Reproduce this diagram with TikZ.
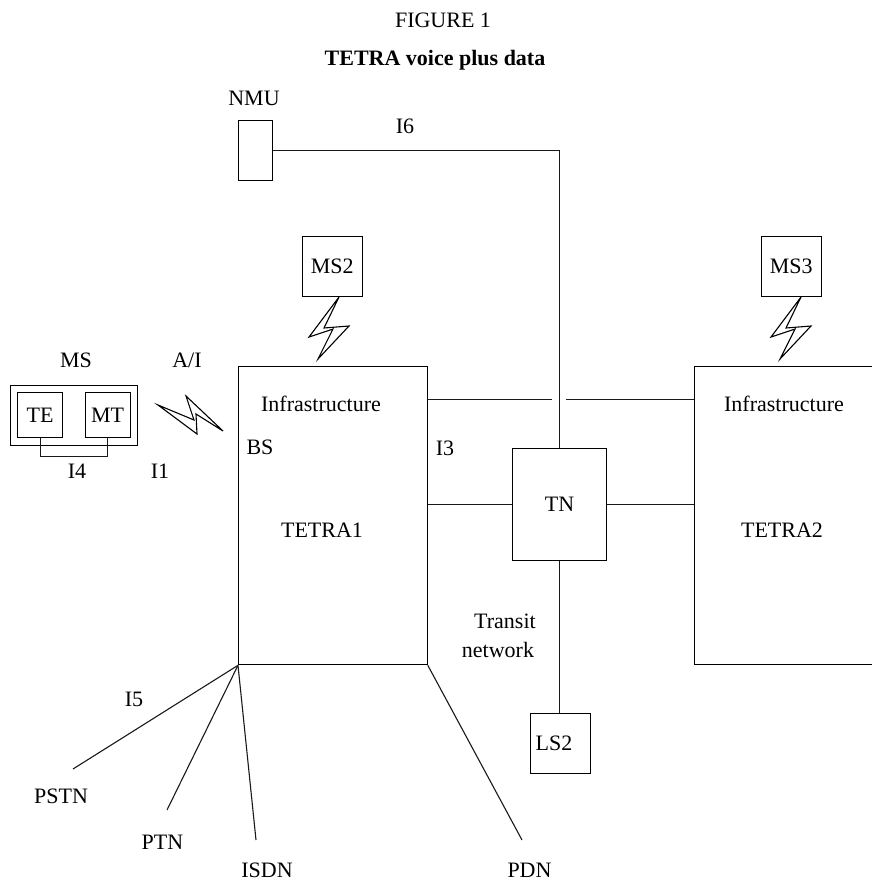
\documentclass[tikz,border=0pt]{standalone}
\usepackage{fontspec}
\setmainfont{Liberation Serif}
\tikzset{
  lbl/.style={inner sep=0pt,font=\fontsize{22}{24}\selectfont},
  wire/.style={line width=1.1pt,draw=black!90},
  bolt/.style={line width=1.1pt,line join=miter},
  box/.style={draw=black,line width=1.3pt,inner sep=0pt,font=\fontsize{22}{24}\selectfont,anchor=north west,minimum width=#1},
}
\newcommand{\boxat}[6]{\node[box=#4pt,minimum height=#5pt] (#1) at (#2,#3) {#6};}
\begin{document}
\begin{tikzpicture}[x=1pt,y=-1pt]
\useasboundingbox (0,0) rectangle (872,881);
% boxes
\boxat{nmu}{237.5}{119.5}{34}{60}{}
\boxat{ms2}{301.5}{235.5}{60}{60}{MS2}
\boxat{ms3}{760.5}{235.5}{60}{60}{MS3}
\boxat{tetraa}{238}{366}{188.5}{298}{}
\boxat{tetrab}{693.5}{366}{190}{298}{}
\boxat{tn}{512}{448}{94}{112}{TN}
\boxat{ls}{529.5}{713}{60}{60}{}
\boxat{ms}{9.5}{384.5}{127.5}{60.5}{}
\boxat{te}{17}{392}{45}{45}{TE}
\boxat{mt}{84.5}{392}{45}{45}{MT}
% free end coordinates
\coordinate (gapl) at (552,399.5);
\coordinate (gapr) at (566,399.5);
\coordinate (ta) at (426.5,399.5);
\coordinate (tb) at (693.5,399.5);
\coordinate (pstn) at (73,769);
\coordinate (ptn) at (167,810);
\coordinate (isdn) at (256,840);
\coordinate (pdn) at (522,840);
\coordinate (te4) at (40,456);
\coordinate (mt4) at (107,456);
% connectors
\draw[wire] (nmu.east) -| (tn.north);
\draw[wire] (ta) -- (gapl);
\draw[wire] (gapr) -- (tb);
\draw[wire] (tetraa.east |- tn.west) -- (tn.west);
\draw[wire] (tn.east) -- (tetrab.west |- tn.east);
\draw[wire] (tn.south) -- (tn.south |- ls.north);
\draw[wire] (tetraa.south west) -- (pstn);
\draw[wire] (tetraa.south west) -- (ptn);
\draw[wire] (tetraa.south west) -- (isdn);
\draw[wire] (tetraa.south east) -- (pdn);
\draw[wire,line width=1pt] (te4 |- te.south) -- (te4) -- (mt4) -- (mt4 |- mt.south);
% bolts
\draw[bolt] (158,405) -- (194,420) -- (186,396) -- (223,431) -- (196,414) -- (197,434) -- cycle;
\draw[bolt] (339,297) -- (309,337) -- (333,329) -- (318,359) -- (349,326) -- (324,328) -- cycle;
\draw[bolt,shift={(462,0)}] (339,297) -- (309,337) -- (333,329) -- (318,359) -- (349,326) -- (324,328) -- cycle;
% labels
\node[lbl] (fig) at (443,20) {FIGURE 1};
\node[lbl,font=\fontsize{22}{24}\selectfont\bfseries] (title) at (435,60) {TETRA voice plus data};
\node[lbl] (lnmu) at (254,98) {NMU};
\node[lbl] (li6) at (405,126) {I6};
\node[lbl] (lms) at (76,360) {MS};
\node[lbl] (lai) at (187,360) {A/I};
\node[lbl] (li4) at (77,471) {I4};
\node[lbl] (li1) at (160,471) {I1};
\node[lbl] (lbs) at (260,447) {BS};
\node[lbl] (linfa) at (321,404) {Infrastructure};
\node[lbl] (linfb) at (784,404) {Infrastructure};
\node[lbl] (li3) at (445,448) {I3};
\node[lbl] (lta) at (322,530) {TETRA1};
\node[lbl] (ltb) at (782,530) {TETRA2};
\node[lbl] (ltr1) at (505,621) {Transit};
\node[lbl] (ltr2) at (498,650) {network};
\node[lbl] (lls) at (554,743) {LS2};
\node[lbl] (li5) at (134,699) {I5};
\node[lbl] (lpstn) at (61,796) {PSTN};
\node[lbl] (lptn) at (162.5,842) {PTN};
\node[lbl] (lisdn) at (267,870) {ISDN};
\node[lbl] (lpdn) at (529.5,870) {PDN};
\end{tikzpicture}
\end{document}
